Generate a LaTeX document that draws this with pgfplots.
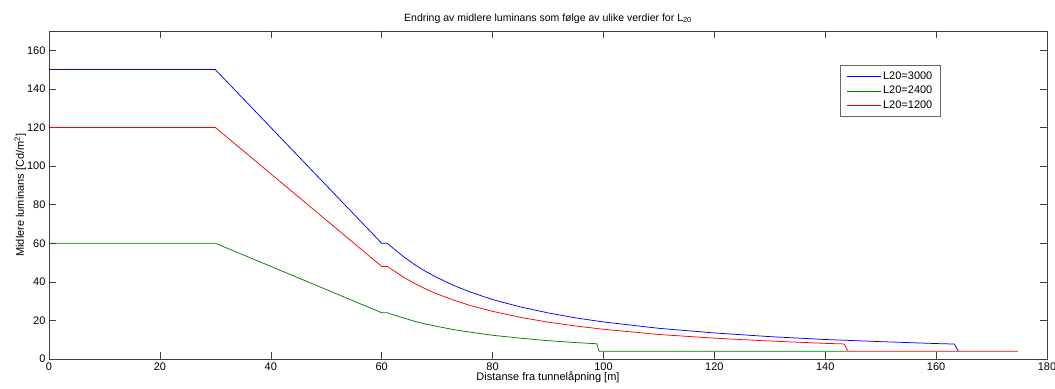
\documentclass[border=0pt]{standalone}
\usepackage{pgfplots}
\pgfplotsset{compat=1.18}
\usepackage{fontspec}
\setmainfont{Liberation Sans}
\definecolor{mblue}{rgb}{0,0,1}
\definecolor{mgreen}{rgb}{0,0.5,0}
\definecolor{mred}{rgb}{1,0,0}
\begin{document}
\begin{tikzpicture}
\begin{axis}[
  name=ax,
  scale only axis,
  width=998pt, height=328pt,
  xmin=0, xmax=180, ymin=0, ymax=170,
  xtick={0,20,...,180}, ytick={0,20,...,160},
  tick align=inside,
  major tick length=7pt,
  axis line style={draw=black!75},
  every tick/.style={draw=black!75},
  tick label style={font=\fontsize{11}{13}\selectfont},
  /pgf/number format/assume math mode=true,
  xlabel={Distanse fra tunnelåpning [m]},
  ylabel={Midlere luminans [Cd/m\textsuperscript{2}]},
  xlabel style={font=\fontsize{11}{13}\selectfont, yshift=6pt},
  ylabel style={font=\fontsize{11}{13}\selectfont, yshift=-6pt},
  title={Endring av midlere luminans som følge av ulike verdier for L\textsubscript{20}},
  title style={font=\fontsize{10.5}{12}\selectfont, yshift=-2pt},
  legend style={at={(0.7926,0.895)}, anchor=north west, font=\fontsize{11}{13}\selectfont,
    draw=black!60, inner xsep=6pt, inner ysep=4pt, row sep=1.5pt},
  legend cell align=left,
  legend image code/.code={\draw[#1] (0cm,0cm) -- (1.2cm,0cm);},
]
\addplot[draw=mblue, line width=0.75pt] coordinates {
(0,150) (30,150) (60,60) (61,60) (62,57.6) (64,52.9) (66,48.8) (68,45.3) (70,42.2)
(73,38.1) (76,34.7) (80,30.8) (85,27.0) (90,23.9) (95,21.3) (100,19.2) (110,15.9)
(120,13.5) (130,11.6) (140,10.1) (150,9.0) (160,8.0) (163.3,7.75) (164,4)
};
\addlegendentry{L20=3000}
\addplot[draw=mgreen, line width=0.75pt] coordinates {
(0,60) (30,60) (60,24) (61,24) (62,23.0) (64,21.2) (66,19.5) (68,18.1) (70,16.9)
(73,15.2) (76,13.9) (80,12.3) (85,10.8) (90,9.5) (95,8.5) (98.8,7.9) (99.2,4) (144,4)
};
\addlegendentry{L20=2400}
\addplot[draw=mred, line width=0.75pt] coordinates {
(0,120) (30,120) (60,48) (61,48) (62,46.1) (64,42.3) (66,39.1) (68,36.2) (70,33.7)
(73,30.5) (76,27.7) (80,24.7) (85,21.6) (90,19.1) (95,17.1) (100,15.4) (110,12.7)
(120,10.8) (130,9.3) (140,8.1) (143.4,7.8) (144.1,4) (174.8,4)
};
\addlegendentry{L20=1200}
\end{axis}
\pgfresetboundingbox
\path[use as bounding box] ([xshift=-49pt,yshift=-30pt]ax.south west) rectangle ([xshift=8pt,yshift=31pt]ax.north east);
\end{tikzpicture}
\end{document}
